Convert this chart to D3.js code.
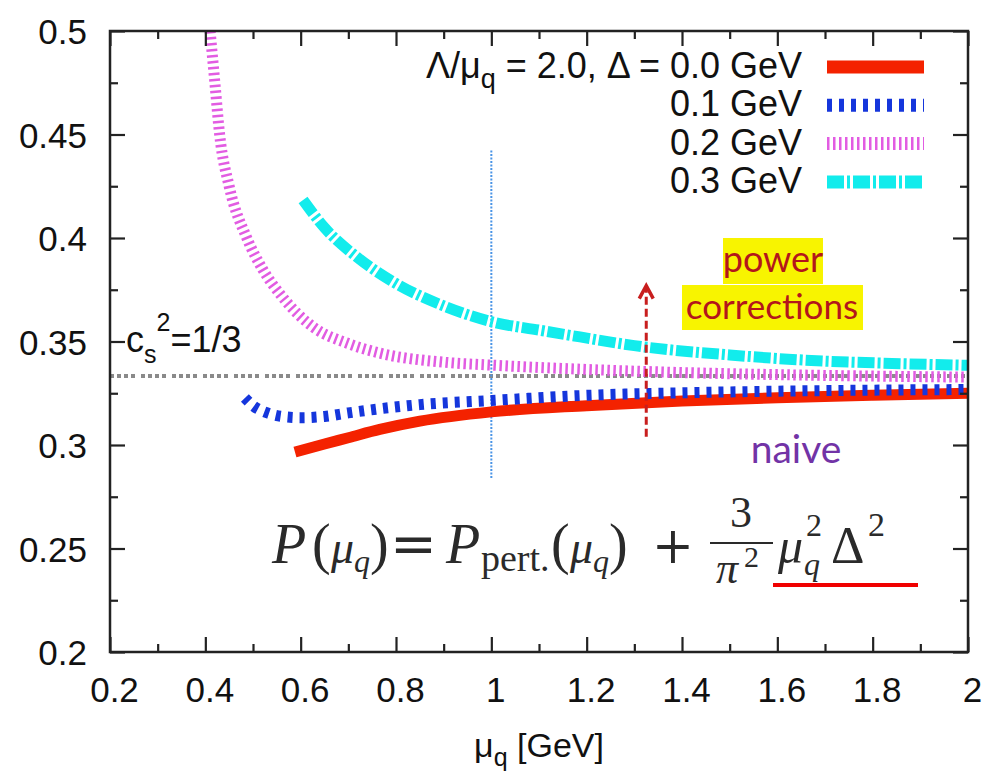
<!DOCTYPE html>
<html>
<head>
<meta charset="utf-8">
<script src="https://cdn.jsdelivr.net/npm/d3@7"></script>
<style>
  html, body { margin: 0; padding: 0; background: #fff; }
  svg { display: block; }
</style>
</head>
<body>
<svg id="chart" width="984" height="773" font-family="'Liberation Sans', Arial, sans-serif" fill="#111"></svg>
<script>
// ---------------- data ----------------
const xTicks = [0.2, 0.4, 0.6, 0.8, 1.0, 1.2, 1.4, 1.6, 1.8, 2.0];
const xTickLabels = ["0.2", "0.4", "0.6", "0.8", "1", "1.2", "1.4", "1.6", "1.8", "2"];
const xMinor = [0.3, 0.5, 0.7, 0.9, 1.1, 1.3, 1.5, 1.7, 1.9];
const yTicks = [0.2, 0.25, 0.3, 0.35, 0.4, 0.45, 0.5];
const yTickLabels = ["0.2", "0.25", "0.3", "0.35", "0.4", "0.45", "0.5"];
const yMinor = [0.225, 0.275, 0.325, 0.375, 0.425, 0.475];

const seriesNames = ["0.0 GeV", "0.1 GeV", "0.2 GeV", "0.3 GeV"];

// Delta = 0.0 GeV
const mu_d00 = [0.588, 0.65, 0.70, 0.766, 0.85, 1.0, 1.2, 1.4, 1.6, 1.8, 2.0];
const p_d00  = [0.2966, 0.3005, 0.3035, 0.3075, 0.3115, 0.3160, 0.3190, 0.3212, 0.3228, 0.3240, 0.3250];
// Delta = 0.1 GeV
const mu_d01 = [0.483, 0.50, 0.53, 0.56, 0.60, 0.65, 0.70, 0.766, 0.85, 1.0, 1.2, 1.4, 1.6, 1.8, 2.0];
const p_d01  = [0.3227, 0.3190, 0.3155, 0.3138, 0.3132, 0.3138, 0.3155, 0.3175, 0.3195, 0.3215, 0.3240, 0.3252, 0.3260, 0.3265, 0.3268];
// Delta = 0.2 GeV
const mu_d02 = [0.41, 0.42, 0.43, 0.45, 0.487, 0.52, 0.56, 0.626, 0.70, 0.766, 0.9, 1.0, 1.2, 1.4, 1.6, 1.8, 2.0];
const p_d02  = [0.500, 0.475, 0.450, 0.425, 0.400, 0.385, 0.372, 0.357, 0.349, 0.3444, 0.3400, 0.3386, 0.3365, 0.3350, 0.3340, 0.3333, 0.3328];
// Delta = 0.3 GeV
const mu_d03 = [0.605, 0.65, 0.718, 0.80, 0.90, 1.003, 1.1, 1.186, 1.3, 1.5, 1.7, 1.815, 2.0];
const p_d03  = [0.4184, 0.4050, 0.3908, 0.3780, 0.3672, 0.3594, 0.3555, 0.3522, 0.3480, 0.3435, 0.3405, 0.3396, 0.3385];

const conformalValue = 1 / 3;
const vlineX = 1.0, vlineY = [0.284, 0.443];
const arrowX = 1.325, arrowY = [0.304, 0.377];

// ---------------- layout ----------------
const svg = d3.select("#chart");
svg.append("rect").attr("width", 984).attr("height", 773).attr("fill", "#fff");
const L = 110, R = 968, T = 31, B = 652;
const x = d3.scaleLinear().domain([0.2, 2.0]).range([L, R]);
const y = d3.scaleLinear().domain([0.2, 0.5]).range([B, T]);

const styles = [
  { color: "#f42200", width: 11, dash: null },
  { color: "#1536dc", width: 11, dash: "5,7" },
  { color: "#e25ce2", width: 11, dash: "2.5,3.5" },
  { color: "#12ecec", width: 11, dash: "17,3,3,3" }
];
const series = [
  { mu: mu_d00, p: p_d00 },
  { mu: mu_d01, p: p_d01 },
  { mu: mu_d02, p: p_d02 },
  { mu: mu_d03, p: p_d03 }
];

svg.append("defs").append("clipPath").attr("id", "clip")
  .append("rect").attr("x", L).attr("y", T).attr("width", R - L).attr("height", B - T);

const plot = svg.append("g").attr("clip-path", "url(#clip)");

// conformal line
plot.append("line")
  .attr("x1", x(0.2)).attr("x2", x(2.0))
  .attr("y1", y(conformalValue)).attr("y2", y(conformalValue))
  .attr("stroke", "#8a8a8a").attr("stroke-width", 4)
  .attr("stroke-dasharray", "4,3,4,3,4,3,4,6");

// vertical dotted line
plot.append("line")
  .attr("x1", x(vlineX)).attr("x2", x(vlineX))
  .attr("y1", y(vlineY[0])).attr("y2", y(vlineY[1]))
  .attr("stroke", "#4a94e6").attr("stroke-width", 2)
  .attr("stroke-dasharray", "2,1.5");

const line = d3.line().x(d => x(d[0])).y(d => y(d[1])).curve(d3.curveMonotoneX);
series.forEach((s, i) => {
  const pts = s.mu.map((m, j) => [m, s.p[j]]);
  plot.append("path").datum(pts)
    .attr("d", line)
    .attr("fill", "none")
    .attr("stroke", styles[i].color)
    .attr("stroke-width", styles[i].width)
    .attr("stroke-dasharray", styles[i].dash)
    .attr("stroke-linecap", "butt");
});

// arrow (power corrections)
const arrowColor = "#c81e1e";
svg.append("line")
  .attr("x1", x(arrowX)).attr("x2", x(arrowX))
  .attr("y1", y(arrowY[0])).attr("y2", y(arrowY[1]) + 2)
  .attr("stroke", arrowColor).attr("stroke-width", 3)
  .attr("stroke-dasharray", "8,4");
svg.append("path")
  .attr("d", `M${x(arrowX) - 7},${y(arrowY[1]) + 13} L${x(arrowX)},${y(arrowY[1])} L${x(arrowX) + 7},${y(arrowY[1]) + 13}`)
  .attr("fill", "none").attr("stroke", arrowColor).attr("stroke-width", 3.5);

// ---------------- axes ----------------
const axisColor = "#222";
function styleAxis(g) {
  g.attr("font-family", null).attr("font-size", null);
  g.select(".domain").remove();
  g.selectAll(".tick line").attr("stroke", axisColor).attr("stroke-width", 2.2);
  g.selectAll("text").attr("font-size", 35).attr("fill", "#111");
}
// bottom
svg.append("g").attr("transform", `translate(0,${B})`)
  .call(d3.axisBottom(x).tickValues(xTicks).tickSize(-15).tickPadding(25)
    .tickFormat((d, i) => xTickLabels[i]))
  .call(styleAxis)
  .call(g => g.selectAll("text").attr("dx", 4));
svg.append("g").attr("transform", `translate(0,${B})`)
  .call(d3.axisBottom(x).tickValues(xMinor).tickSize(-8).tickFormat(""))
  .call(styleAxis);
// top
svg.append("g").attr("transform", `translate(0,${T})`)
  .call(d3.axisTop(x).tickValues(xTicks).tickSize(-15).tickFormat(""))
  .call(styleAxis);
svg.append("g").attr("transform", `translate(0,${T})`)
  .call(d3.axisTop(x).tickValues(xMinor).tickSize(-8).tickFormat(""))
  .call(styleAxis);
// left
svg.append("g").attr("transform", `translate(${L},0)`)
  .call(d3.axisLeft(y).tickValues(yTicks).tickSize(-15).tickPadding(23)
    .tickFormat((d, i) => yTickLabels[i]))
  .call(styleAxis)
  .call(g => g.selectAll("text").attr("dy", "0.36em"));
svg.append("g").attr("transform", `translate(${L},0)`)
  .call(d3.axisLeft(y).tickValues(yMinor).tickSize(-8).tickFormat(""))
  .call(styleAxis);
// right
svg.append("g").attr("transform", `translate(${R},0)`)
  .call(d3.axisRight(y).tickValues(yTicks).tickSize(-15).tickFormat(""))
  .call(styleAxis);
svg.append("g").attr("transform", `translate(${R},0)`)
  .call(d3.axisRight(y).tickValues(yMinor).tickSize(-8).tickFormat(""))
  .call(styleAxis);

// frame
svg.append("rect").attr("x", L).attr("y", T).attr("width", R - L).attr("height", B - T)
  .attr("fill", "none").attr("stroke", axisColor).attr("stroke-width", 2.5);

// x axis title
const xt = svg.append("text").attr("x", 539).attr("y", 757).attr("text-anchor", "middle")
  .attr("font-size", 34);
xt.append("tspan").text("μ");
xt.append("tspan").text("q").attr("font-size", 25).attr("dy", 9);
xt.append("tspan").text(" [GeV]").attr("font-size", 34).attr("dy", -9);

// ---------------- legend ----------------
const legX1 = 827, legX2 = 924, legTextX = 802;
const legY0 = 67, legDY = 38.3;
seriesNames.forEach((name, i) => {
  const ly = legY0 + i * legDY;
  svg.append("line").attr("x1", legX1).attr("x2", legX2).attr("y1", ly).attr("y2", ly)
    .attr("stroke", styles[i].color).attr("stroke-width", 13)
    .attr("stroke-dasharray", styles[i].dash);
  const t = svg.append("text").attr("x", legTextX).attr("y", ly + 11)
    .attr("text-anchor", "end").attr("font-size", 36);
  if (i === 0) {
    t.append("tspan").text("Λ/μ");
    t.append("tspan").text("q").attr("font-size", 27).attr("dy", 10);
    t.append("tspan").text(" = 2.0, Δ = " + name).attr("dy", -10);
  } else {
    t.text(name);
  }
});

// c_s^2 = 1/3 label
const cs = svg.append("text").attr("x", 126).attr("y", 352).attr("font-size", 36);
cs.append("tspan").text("c");
cs.append("tspan").text("s").attr("font-size", 25).attr("dy", 11);
cs.append("tspan").text("2").attr("font-size", 25).attr("dy", -32);
cs.append("tspan").text("=1/3").attr("dy", 21);

// power corrections
const pcColor = "#b3161b", hl = "#f8f400";
svg.append("rect").attr("x", 723).attr("y", 238).attr("width", 100).attr("height", 46).attr("fill", hl);
svg.append("rect").attr("x", 682).attr("y", 285).attr("width", 181).attr("height", 45).attr("fill", hl);
svg.append("text").attr("x", 773).attr("y", 272).attr("text-anchor", "middle")
  .attr("font-family", "Lato, sans-serif").attr("font-size", 36).attr("fill", pcColor).text("power");
svg.append("text").attr("x", 772).attr("y", 319).attr("text-anchor", "middle")
  .attr("font-family", "Lato, sans-serif").attr("font-size", 35).attr("fill", pcColor).text("corrections");

// naive
svg.append("text").attr("x", 796).attr("y", 463).attr("text-anchor", "middle")
  .attr("font-family", "Lato, sans-serif").attr("font-size", 39).attr("fill", "#7233a6").text("naive");

// ---------------- equation ----------------
const serif = "'Liberation Serif', 'Times New Roman', serif";
const wideSerif = "'DejaVu Serif', serif";
const eqColor = "#2a2a2a";
// text, x, baseline, size, italic, family
const eqMain = [
  ["P", 272, 563, 56, true, serif],
  ["(", 312, 563, 56, false, serif],
  ["μ", 331, 563, 46, true, serif],
  ["q", 354, 572, 32, true, serif],
  [")", 370, 563, 56, false, serif],
  ["=", 390, 563, 56, false, wideSerif],
  ["P", 446, 563, 56, true, serif],
  ["pert.", 481, 571, 38, false, serif],
  ["(", 551, 563, 56, false, serif],
  ["μ", 570, 563, 46, true, serif],
  ["q", 593, 572, 32, true, serif],
  [")", 609, 563, 56, false, serif],
  ["+", 652, 563, 50, false, wideSerif]
];
const eqTail = [
  ["μ", 778, 563, 50, true, serif],
  ["2", 806, 536, 32, false, serif],
  ["q", 804, 575, 32, true, serif],
  ["Δ", 831, 563, 52, false, serif],
  ["2", 868, 536, 34, false, serif]
];
function eqText(parts) {
  const t = svg.append("text").attr("fill", eqColor);
  parts.forEach(([s, ex, ey, fs, it, fam]) => {
    t.append("tspan").attr("x", ex).attr("y", ey).attr("font-size", fs)
      .attr("font-family", fam).attr("font-style", it ? "italic" : "normal").text(s);
  });
  return t;
}
eqText(eqMain);
eqText(eqTail);
eqText([["3", 730, 527, 44, false, serif]]);
eqText([["π", 716, 583, 44, true, serif], ["2", 744, 567, 30, false, serif]]);
svg.append("line").attr("x1", 710).attr("x2", 773).attr("y1", 543).attr("y2", 543)
  .attr("stroke", eqColor).attr("stroke-width", 2);
svg.append("rect").attr("x", 773).attr("y", 583).attr("width", 145).attr("height", 4).attr("fill", "#f00000");
</script>
</body>
</html>
